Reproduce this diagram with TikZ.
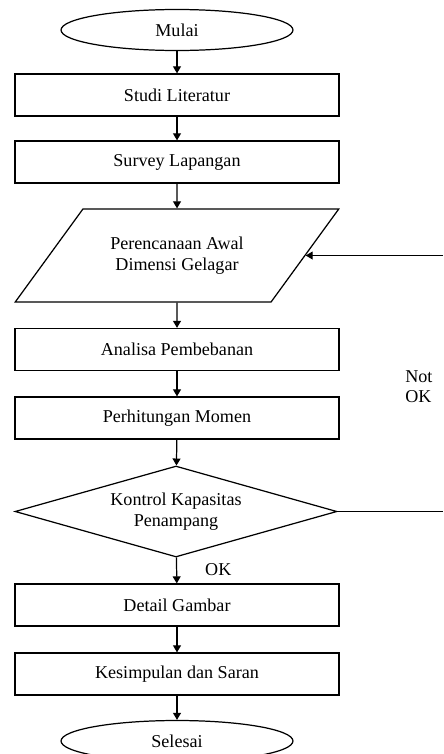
\documentclass[tikz,border=0pt]{standalone}
\usepackage{fontspec}
\setmainfont{Liberation Serif}
\usetikzlibrary{shapes.geometric,arrows.meta,calc}

\begin{document}
\begin{tikzpicture}[x=0.02cm,y=-0.02cm,
    font=\fontsize{10.3}{11.6}\selectfont,
    garis/.style={line width=0.7pt},
    proses/.style={garis,draw,rectangle,minimum width=6.48cm,minimum height=0.84cm,inner sep=0pt},
    ujung/.style={garis,draw,ellipse,minimum width=4.64cm,minimum height=0.82cm,inner sep=0pt},
    masukan/.style={garis,draw,trapezium,trapezium left angle=37.5,trapezium right angle=142.5,
      trapezium stretches=true,minimum width=6.48cm,minimum height=1.86cm,inner sep=0pt,align=center},
    cek/.style={garis,draw,diamond,aspect=3.5,minimum width=6.44cm,minimum height=1.82cm,inner sep=0pt,align=center},
    panah/.style={garis,-{Triangle[width=4.5pt,length=4pt]}}]
  % flowchart of the girder design steps, the check loops back to the first dimensions
  \useasboundingbox (0,0) rectangle (443,754);
  \node[ujung] (mulai) at (177,30) {Mulai};
  \foreach \n/\y/\t in {studi/95/Studi Literatur, survey/162/Survey Lapangan,
      analisa/349.5/Analisa Pembebanan, hitung/418/Perhitungan Momen,
      detail/605/Detail Gambar, simpul/674/Kesimpulan dan Saran}
    \node[proses] (\n) at (177,\y) {\t};
  \node[masukan] (para) at (177,255.5) {Perencanaan Awal\\Dimensi Gelagar};
  \node[cek] (kontrol) at (176,511.5) {Kontrol Kapasitas\\Penampang};
  \node[ujung] (selesai) at (177,741) {Selesai};
  \foreach \a/\b in {mulai/studi, studi/survey, survey/para, para/analisa, analisa/hitung,
      hitung/kontrol, kontrol/detail, detail/simpul, simpul/selesai}
    \draw[panah] (\a) -- (\b);
  % the way back when the section fails
  \coordinate (sisi) at ($(para.top right corner)!.5!(para.bottom right corner)$);
  \coordinate (balik) at (kontrol.east -| 443,0);
  \coordinate (masuk) at (sisi -| 443,0);
  \draw[garis] (kontrol.east) -- (balik);
  \draw[panah] (masuk) -- (sisi);
  \node[anchor=west] (ok) at (199,570) {OK};
  \node[anchor=west,align=left,inner sep=0pt] (notok) at (405,386.5) {Not\\OK};
\end{tikzpicture}
\end{document}
